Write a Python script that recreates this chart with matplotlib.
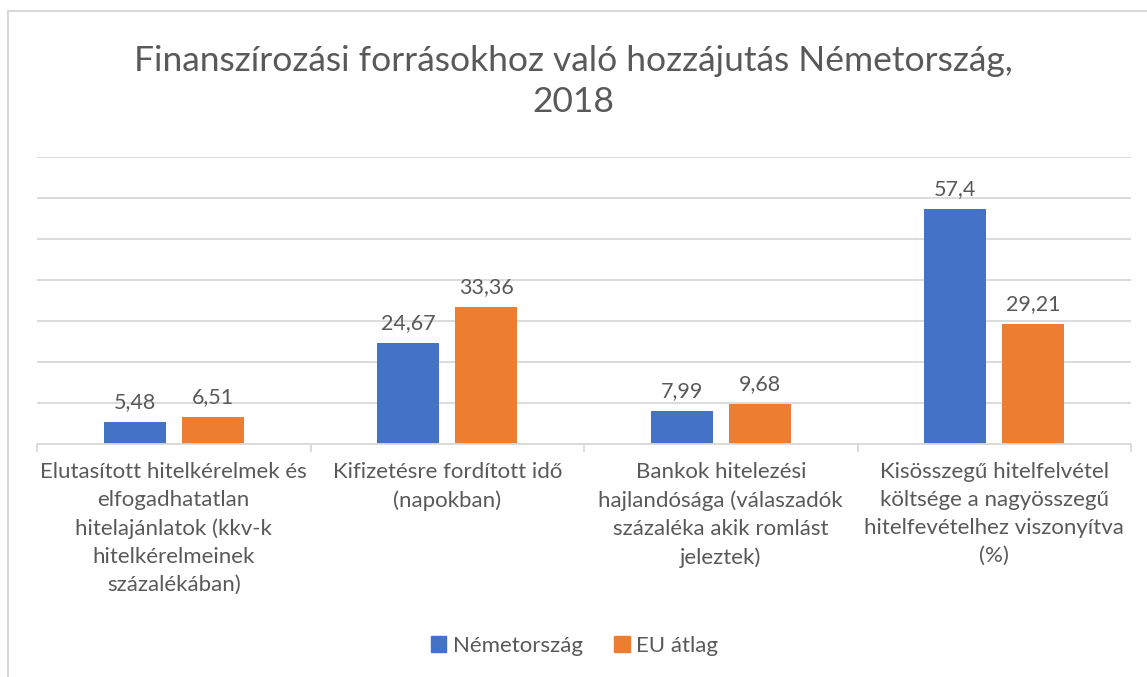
import matplotlib.pyplot as plt
from matplotlib.patches import Patch
from matplotlib.lines import Line2D

categories = [
    "Elutasított hitelkérelmek és\nelfogadhatatlan\nhitelajánlatok (kkv-k\nhitelkérelmeinek\nszázalékában)",
    "Kifizetésre fordított idő\n(napokban)",
    "Bankok hitelezési\nhajlandósága (válaszadók\nszázaléka akik romlást\njeleztek)",
    "Kisösszegű hitelfelvétel\nköltsége a nagyösszegű\nhitelfevételhez viszonyítva\n(%)",
]
series_names = ["Németország", "EU átlag"]
germany = [5.48, 24.67, 7.99, 57.4]
eu_avg = [6.51, 33.36, 9.68, 29.21]
title = "Finanszírozási forrásokhoz való hozzájutás Németország,\n2018"

BLUE = "#4472C4"
ORANGE = "#ED7D31"
TEXT = "#595959"
GRID = "#D9D9D9"

plt.rcParams["font.family"] = ["Lato", "DejaVu Sans"]

fig = plt.figure(figsize=(11.47, 6.77), dpi=100)
ax = fig.add_axes([37 / 1147, 1 - 444 / 677, (1131 - 37) / 1147, (444 - 157) / 677])

x = range(len(categories))
width = 0.227
offset = 0.143
bars1 = ax.bar([i - offset for i in x], germany, width, color=BLUE, label=series_names[0])
bars2 = ax.bar([i + offset for i in x], eu_avg, width, color=ORANGE, label=series_names[1])

def fmt(v):
    return f"{v:g}".replace(".", ",")

for bars, vals in ((bars1, germany), (bars2, eu_avg)):
    for b, v in zip(bars, vals):
        ax.annotate(fmt(v), (b.get_x() + b.get_width() / 2, v), xytext=(0, 7),
                    textcoords="offset points", ha="center", va="bottom",
                    fontsize=15.5, color=TEXT)

ax.set_xlim(-0.5, len(categories) - 0.5)
ax.set_ylim(0, 70)
ax.set_yticks(range(0, 71, 10))
ax.yaxis.grid(True, color=GRID, linewidth=1.3)
ax.set_axisbelow(True)
ax.tick_params(axis="y", length=0, labelleft=False)

ax.set_xticks(list(x))
ax.set_xticklabels(categories, fontsize=16, color=TEXT, linespacing=1.5)
ax.tick_params(axis="x", which="major", length=0, pad=13)
ax.set_xticks([i - 0.5 for i in range(len(categories) + 1)], minor=True)
ax.tick_params(axis="x", which="minor", length=6, color=GRID, width=1.3)

for side in ("top", "right", "left"):
    ax.spines[side].set_visible(False)
ax.spines["bottom"].set_color(GRID)
ax.spines["bottom"].set_linewidth(1.3)

fig.suptitle(title, fontsize=25.5, color=TEXT, y=1 - 45 / 677, va="top", linespacing=1.35)

handles = [Patch(color=BLUE), Patch(color=ORANGE)]
fig.legend(handles, series_names, loc="center", bbox_to_anchor=(0.501, 1 - 646 / 677),
           ncol=2, frameon=False, fontsize=16, labelcolor=TEXT,
           handlelength=0.7, handleheight=0.7, handletextpad=0.3, columnspacing=1.4)

# chart border (top and left edges visible)
fig.add_artist(Line2D([8 / 1147, 1], [1 - 11 / 677] * 2, color=GRID, linewidth=1.5,
                      transform=fig.transFigure))
fig.add_artist(Line2D([8 / 1147] * 2, [0, 1 - 11 / 677], color=GRID, linewidth=1.5,
                      transform=fig.transFigure))

fig.savefig("out.png", dpi=100, facecolor="white")
